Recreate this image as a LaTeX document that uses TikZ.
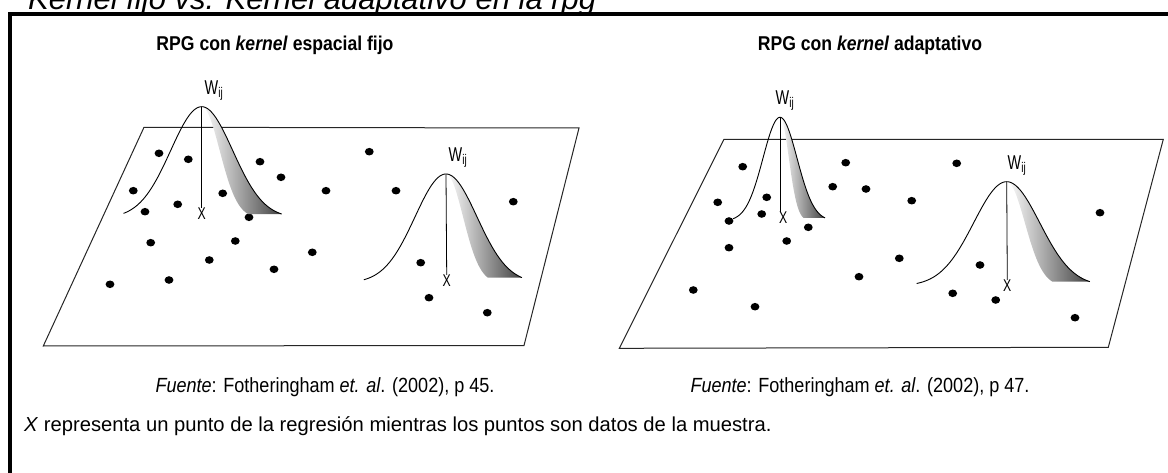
\documentclass[tikz,border=0pt]{standalone}
\usepackage{fontspec}
\setmainfont{Liberation Sans}
\newfontfamily\estrecha[FakeStretch=0.88]{Liberation Sans}
\newfontfamily\condensada[FakeStretch=0.72]{Liberation Sans}
\usetikzlibrary{positioning}

% campana: #1 x0, #2 base, #3 altura, #4 ancho, #5 tope izq, #6 tope der, #7 factor interior
\newcommand{\campana}[7]{%
  \shade[left color=white, right color=black!75]
    plot[domain=0:#6, samples=60] ({#1+#4*\x}, {#2-#3*exp(-0.5*(\x)*(\x))})
    -- plot[domain=#6:0, samples=60] ({#1+#7*#4*\x}, {#2-#3*exp(-0.5*(\x)*(\x))}) -- cycle;
  \draw[curva] plot[domain=-#5:#6, samples=120] ({#1+#4*\x}, {#2-#3*exp(-0.5*(\x)*(\x))});
}

\begin{document}
\begin{tikzpicture}[x=1pt, y=-1pt,
    curva/.style={line width=0.9pt},
    plano/.style={line width=1pt, black!85},
    eje/.style={line width=0.8pt},
    peso/.style={inner sep=0pt, font=\condensada\fontsize{20}{22}\selectfont},
    equis/.style={inner sep=0pt, font=\condensada\fontsize{17}{19}\selectfont},
    cabecera/.style={inner sep=0pt, anchor=base, font=\estrecha\fontsize{20}{24}\selectfont\bfseries},
    fuente/.style={inner sep=0pt, anchor=base, font=\estrecha\fontsize{20.5}{24}\selectfont},
    nota/.style={inner sep=0pt, anchor=base west, font=\fontsize{20.2}{24}\selectfont}]
  \useasboundingbox (0,0) rectangle (1168,473);

  % titulo cortado y marco
  \node[inner sep=0pt, anchor=base west, font=\fontsize{31}{34}\selectfont\itshape] (titulo) at (28,10)
    {Kernel fijo vs. Kernel adaptativo en la rpg};
  \draw[line width=4pt] (1180,14.5) -- (10,14.5) -- (10,485);

  % cabeceras
  \node[cabecera] (cabIzq) at (275,51) {RPG con \textit{kernel} espacial fijo};
  \node[cabecera] (cabDer) at (870,51) {RPG con \textit{kernel} adaptativo};

  % izquierda: kernel espacial fijo
  \begin{scope}
    \draw[plano] (144,127.3) -- (579,128) -- (524,345.5) -- (43.3,346) -- cycle;
    \foreach \p in {(159,153.3),(188.3,159.3),(260,161.7),(281,177.3),(369.3,151.7),
                    (133.3,190.7),(222.7,193.3),(326,190.7),(396,190.7),(177.7,204.3),
                    (145,211.7),(249,217.3),(513.3,201.7),(150.7,242.7),(235.3,241),
                    (312.3,252.3),(209.3,260),(274,269.3),(110,284.3),(169,280),
                    (420.7,262.7),(429,297.7),(487.3,312.7)}
      \fill \p ellipse (4.4pt and 3.8pt);
    \campana{201.7}{218}{111.3}{31}{2.52}{2.58}{0.58}
    \campana{446}{283}{109}{31}{2.65}{2.45}{0.55}
    \coordinate (pico1) at (201.7,106.7);
    \coordinate (pico2) at (446,174);
    \node[equis] (x1) at (201.7,214) {X};
    \node[equis] (x2) at (446.7,281) {X};
    \draw[eje] (pico1) -- (x1.north);
    \draw[eje] (pico2) -- (x2.north);
    \node[peso] (w1) at (214,91) {W\textsubscript{ij}};
    \node[peso] (w2) at (458,158) {W\textsubscript{ij}};
  \end{scope}

  % derecha: kernel adaptativo
  \begin{scope}
    \draw[plano] (724,139.3) -- (1163.3,139.3) -- (1108.3,347.3) -- (619.3,348.3) -- cycle;
    \foreach \p in {(742.7,166.7),(845.7,162.7),(956.7,163.3),(832.7,186.7),(866,189),
                    (717.7,202.3),(766.7,197.3),(761.7,214),(911.7,200.7),(729,221),
                    (808.3,227.3),(729,247.7),(786.7,241),(899.3,258.3),(859,276.7),
                    (980,265),(693.3,290),(755,306.7),(952.7,293.3),(995.7,300),
                    (1100,212.7),(1075,317.7)}
      \fill \p ellipse (4.4pt and 3.8pt);
    \campana{780}{221}{103.7}{17}{2.76}{2.65}{0.52}
    \campana{1006.7}{286}{104.3}{33}{2.73}{2.52}{0.55}
    \coordinate (pico3) at (780,117.3);
    \coordinate (pico4) at (1006.7,181.7);
    \node[equis] (x3) at (783.3,218) {X};
    \node[equis] (x4) at (1007.3,286) {X};
    \draw[eje] (pico3) -- (pico3 |- x3.north);
    \draw[eje] (pico4) -- (x4.north);
    \node[peso] (w3) at (785,101) {W\textsubscript{ij}};
    \node[peso] (w4) at (1017,166) {W\textsubscript{ij}};
  \end{scope}

  % fuentes y nota
  \node[fuente] (fteIzq) at (325,392) {\textit{Fuente}: Fotheringham \textit{et. al}. (2002), p 45.};
  \node[fuente] (fteDer) at (860,392) {\textit{Fuente}: Fotheringham \textit{et. al}. (2002), p 47.};
  \node[nota] (nota) at (24,431)
    {\textit{X} representa un punto de la regresión mientras los puntos son datos de la muestra.};
\end{tikzpicture}
\end{document}
